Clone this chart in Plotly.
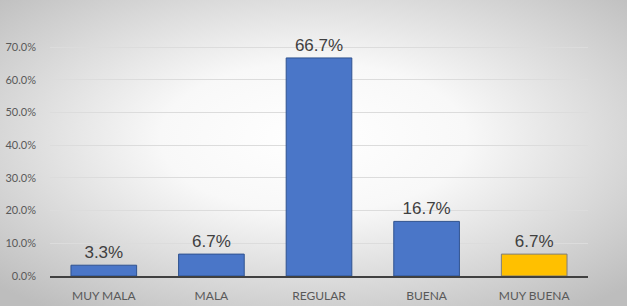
import plotly.graph_objects as go
import base64

categories = ["MUY MALA", "MALA", "REGULAR", "BUENA", "MUY BUENA"]
values = [0.033, 0.067, 0.667, 0.167, 0.067]
labels = ["3.3%", "6.7%", "66.7%", "16.7%", "6.7%"]
colors = ["#4A76C8", "#4A76C8", "#4A76C8", "#4A76C8", "#FFC000"]
line_colors = ["#2F528F", "#2F528F", "#2F528F", "#2F528F", "#7F7F7F"]
tick_vals = [0, 0.1, 0.2, 0.3, 0.4, 0.5, 0.6, 0.7]
tick_text = ["0.0%", "10.0%", "20.0%", "30.0%", "40.0%", "50.0%", "60.0%", "70.0%"]

svg = ('<svg xmlns="http://www.w3.org/2000/svg" width="627" height="306" viewBox="0 0 627 306" preserveAspectRatio="none">'
       '<defs><radialGradient id="g" cx="50%" cy="45%" r="70%">'
       '<stop offset="0%" stop-color="#ffffff"/><stop offset="35%" stop-color="#f8f8f8"/>'
       '<stop offset="100%" stop-color="#bdbdbd"/></radialGradient></defs>'
       '<rect width="627" height="306" fill="url(#g)"/></svg>')
src = "data:image/svg+xml;base64," + base64.b64encode(svg.encode()).decode()

fig = go.Figure(go.Bar(
    x=categories, y=values,
    marker=dict(color=colors, line=dict(color=line_colors, width=1)),
    text=labels, textposition="outside", cliponaxis=False,
    textfont=dict(family="Liberation Sans, Arial", size=17, color="#404040"),
))

fig.update_layout(
    width=627, height=306,
    margin=dict(l=50, r=39, t=21, b=30),
    paper_bgcolor="rgba(0,0,0,0)", plot_bgcolor="rgba(0,0,0,0)",
    bargap=0.39, showlegend=False,
    images=[dict(source=src, xref="paper", yref="paper", x=-50/538, y=1+21/255,
                 sizex=627/538, sizey=306/255, sizing="stretch", layer="below",
                 xanchor="left", yanchor="top")],
    xaxis=dict(showline=True, linecolor="#404040", linewidth=2, ticks="",
               ticklabelstandoff=8, automargin=False,
               tickfont=dict(family="Lato, Carlito, sans-serif", size=12, color="#595959")),
    yaxis=dict(range=[0, 0.78], tickvals=tick_vals, ticktext=tick_text,
               showgrid=True, gridcolor="#dcdcdc", gridwidth=1, zeroline=False,
               ticklabelstandoff=13, automargin=False,
               tickfont=dict(family="Lato, Carlito, sans-serif", size=11, color="#595959")),
)

fig.write_html("out.html")
